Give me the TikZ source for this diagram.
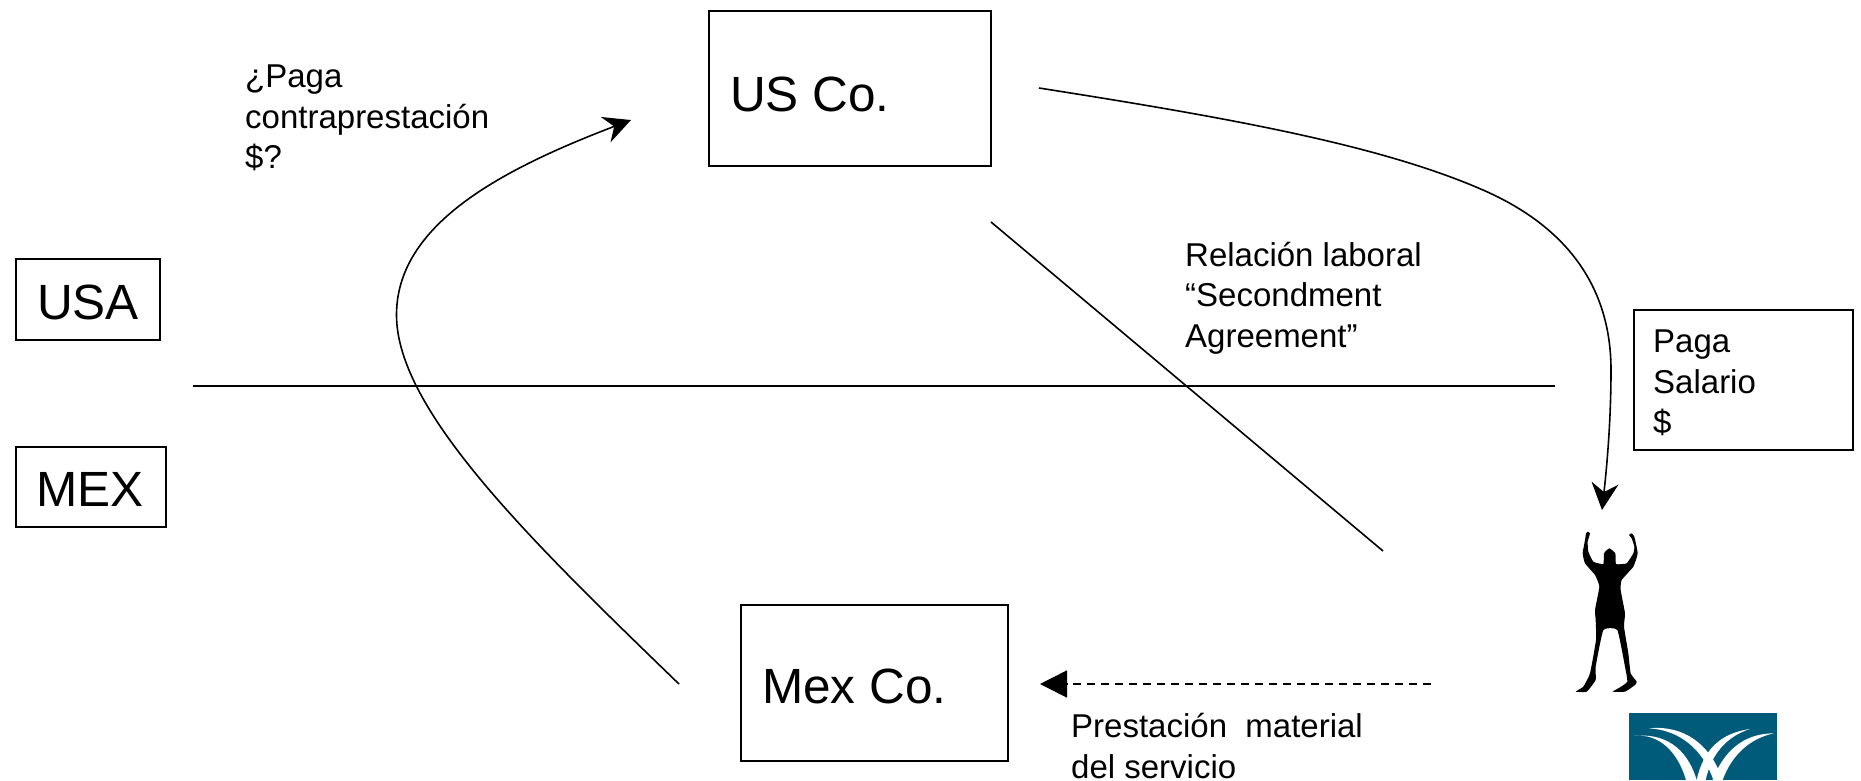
\documentclass[tikz,border=0pt]{standalone}
\usepackage{fontspec}
\setmainfont{Liberation Sans}
\usetikzlibrary{arrows.meta,positioning}
\tikzset{
  boxshape/.style={draw=black,line width=1.6pt,rectangle,inner xsep=0pt,inner ysep=0pt,align=left},
  big/.style={font=\fontsize{49.5}{56}\selectfont},
  small/.style={font=\fontsize{33}{40.5}\selectfont,align=left,anchor=west,inner sep=0pt},
  line/.style={draw=black,line width=1.6pt},
  tip/.style={-{Stealth[length=27pt,width=27pt,inset=9pt]}},
}
\begin{document}
\begin{tikzpicture}[x=1pt,y=-1pt]
\useasboundingbox (0,0) rectangle (1861,780);
\fill[white] (0,0) rectangle (1861,780);
% boxes
\node[boxshape,minimum width=282pt,minimum height=155pt] (us) at (850,88.5) {};
\node[boxshape,minimum width=267pt,minimum height=156pt] (mx) at (874.5,683) {};
\node[boxshape,minimum width=144pt,minimum height=81pt] (usa) at (88,299.5) {};
\node[boxshape,minimum width=150pt,minimum height=80pt] (mex) at (91,487) {};
\node[boxshape,minimum width=219pt,minimum height=140pt] (pay) at (1743.5,380) {};
% box texts
\node[big,anchor=west,inner sep=0pt] (ustxt) at (730,94) {US Co.};
\node[big,anchor=west,inner sep=0pt] (mxtxt) at (762,686) {Mex Co.};
\node[big,anchor=west,inner sep=0pt] (usatxt) at (37,302) {USA};
\node[big,anchor=west,inner sep=0pt] (mextxt) at (36,489) {MEX};
\node[small] (paytxt) at (1653,383) {Paga\\Salario\\\$};
% labels
\node[small] (q) at (245,118) {¿Paga\\contraprestación\\\$?};
\node[small] (rel) at (1185,298) {Relación laboral\\“Secondment\\Agreement”};
\node[small] (pm) at (1071,746) {Prestación\ \ material\\del servicio};
% connector ends
\coordinate (hl) at (193,386);
\coordinate (hr) at (1555,386);
\coordinate (d1) at (991,222);
\coordinate (d2) at (1383,551);
\coordinate (a1) at (1039,88);
\coordinate (a1m) at (1483,190);
\coordinate (a1n) at (1611,370);
\coordinate (a1e) at (1602,510);
\coordinate (a2) at (679,684);
\coordinate (a2m) at (396.5,315);
\coordinate (a2e) at (631,120);
\coordinate (a3) at (1431,684);
\coordinate (a3e) at (1040,684);
\draw[line] (hl) -- (hr);
\draw[line] (d1) -- (d2);
\draw[line,tip] (a1) .. controls (1230,118) and (1380,145) .. (a1m) .. controls (1570,228) and (1611,290) .. (a1n) .. controls (1611,420) and (1607,465) .. (a1e);
\draw[line,tip] (a2) .. controls (530,540) and (396.5,410) .. (a2m) .. controls (396.5,225) and (500,170) .. (a2e);
\draw[line,dash pattern=on 8pt off 6pt,-{Triangle[length=27pt,width=27pt]}] (a3) -- (a3e);
% person
\begin{scope}[shift={(1540,480)},x=0.3333pt,y=-0.3333pt]
\fill[black] plot[smooth,tension=0.25] coordinates {(143,155)(150,160)(143,185)(145,215)(160,245)(190,252)(192,220)(208,205)(226,220)(228,252)(260,250)(280,220)(283,200)(275,175)(267,165)(275,160)(283,170)(293,220)(280,260)(245,300)(242,330)(255,400)(252,440)(265,520)(272,580)(290,605)(285,615)(255,635)(218,635)(240,622)(262,605)(255,560)(232,450)(190,450)(167,560)(167,600)(140,635)(107,635)(130,620)(150,580)(168,480)(167,420)(165,390)(178,320)(165,285)(135,250)(128,220)(135,180)(138,160)} -- cycle;
% logo
\fill[fill={rgb,255:red,0;green,91;blue,122}] (266,699) rectangle (712,900);
\fill[white] (280,768) .. controls (360,758) and (415,820) .. (438,900) -- (470,900) .. controls (440,800) and (370,758) .. (280,768) -- cycle;
\fill[white] (327,745) .. controls (420,750) and (490,810) .. (520,900) -- (548,900) .. controls (510,790) and (430,735) .. (327,745) -- cycle;
\fill[white] (630,747) .. controls (540,760) and (490,810) .. (470,900) -- (497,900) .. controls (515,820) and (560,770) .. (630,747) -- cycle;
\fill[white] (702,760) .. controls (610,760) and (550,815) .. (518,900) -- (548,900) .. controls (575,825) and (630,775) .. (702,760) -- cycle;
\end{scope}
\end{tikzpicture}
\end{document}
